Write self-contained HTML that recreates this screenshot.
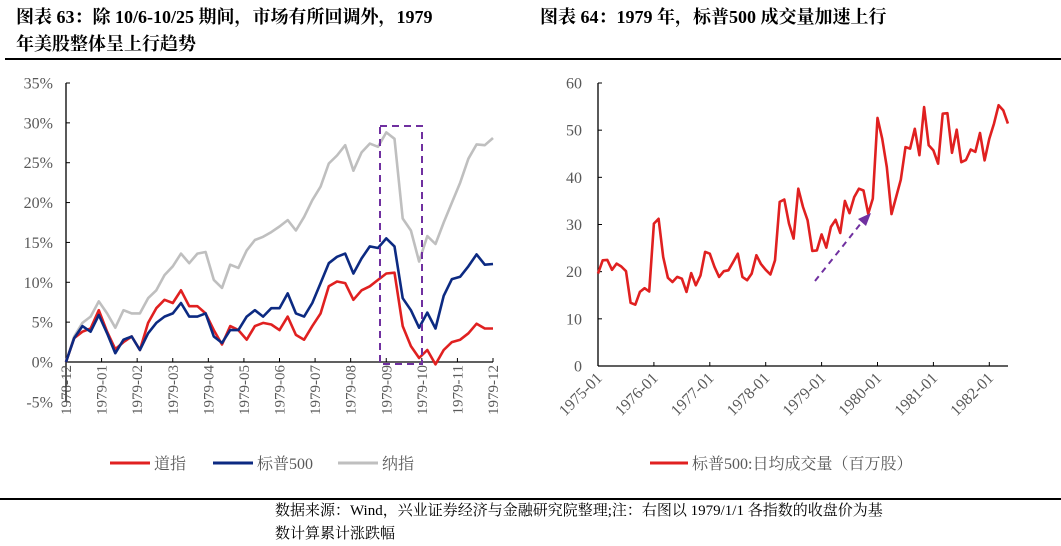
<!DOCTYPE html>
<html><head><meta charset="utf-8">
<style>
body{margin:0;background:#fff;}
#wrap{position:relative;width:1061px;height:546px;overflow:hidden;font-family:"Liberation Serif","Noto Serif CJK SC",serif;}
.title{position:absolute;font-weight:bold;font-size:18px;color:#000;line-height:27px;}
.foot{position:absolute;left:275px;font-size:15px;line-height:23px;color:#000;}
svg text{font-family:"Liberation Serif","Noto Serif CJK SC",serif;}
</style></head>
<body>
<div id="wrap">
<div class="title" style="left:16px;top:4px;width:520px;">图表 63：除 10/6-10/25 期间，市场有所回调外，1979<br>年美股整体呈上行趋势</div>
<div class="title" style="left:540px;top:4px;width:520px;">图表 64：1979 年，标普500 成交量加速上行</div>
<div style="position:absolute;left:5px;top:58px;width:1056px;height:1.5px;background:#000"></div>
<div style="position:absolute;left:0;top:498px;width:1061px;height:1.5px;background:#000"></div>
<div class="foot" style="top:500px">数据来源：Wind，兴业证券经济与金融研究院整理;注：右图以 1979/1/1 各指数的收盘价为基<br>数计算累计涨跌幅</div>
<svg id="chart" width="1061" height="546" style="position:absolute;left:0;top:0"></svg>
</div>
<script>
// Left chart data (weekly samples, cumulative % change in 1979)
const leftWeeks = Array.from({length:53},(_,i)=>i*7);
const dowVals = [0,3,3.8,4.2,6.5,3.8,1.6,2.5,3.2,1.5,4.9,6.75,7.8,7.4,9,7,7,6.1,4,2.2,4.5,4,2.8,4.5,4.9,4.7,4,5.7,3.4,2.8,4.5,6.1,9.5,10.1,9.9,7.8,9,9.5,10.3,11.1,11.2,4.5,2,0.5,1.5,-0.3,1.5,2.5,2.8,3.6,4.8,4.2,4.2];
const spxVals = [0,3,4.5,3.8,5.9,3.6,1.1,2.8,3.2,1.5,3.6,4.9,5.7,6.1,7.4,5.7,5.7,6.1,3.2,2.4,4,4,5.7,6.5,5.7,6.75,6.75,8.6,6.1,5.7,7.4,9.9,12.4,13.2,13.6,11.1,13,14.5,14.3,15.5,14.5,8,6.5,4.3,6.2,4.2,8.3,10.4,10.7,12,13.5,12.2,12.3];
const nasVals = [0,3.2,4.9,5.7,7.6,6.1,4.3,6.5,6.1,6.1,8,9,10.9,12,13.6,12.4,13.6,13.8,10.3,9.3,12.2,11.8,14,15.3,15.7,16.3,17,17.8,16.5,18.2,20.3,22,24.9,25.9,27.2,24,26.3,27.4,27,28.8,28,18,16.5,12.6,15.8,14.8,17.5,20,22.5,25.5,27.3,27.2,28.1];
const leftYTicks = [-5,0,5,10,15,20,25,30,35];
const leftXLabels = ["1978-12","1979-01","1979-02","1979-03","1979-04","1979-05","1979-06","1979-07","1979-08","1979-09","1979-10","1979-11","1979-12"];
// Right chart data (monthly avg daily volume, millions)
const volMonths0 = 0; // index 0 = 1975-01
const volVals = [19.6,22.4,22.5,20.4,21.7,21.1,20.1,13.4,13,15.7,16.5,15.8,30.2,31.2,23.1,18.7,17.8,18.9,18.5,15.7,19.7,17.1,19.2,24.2,23.8,21,18.9,20.1,20.3,22,23.8,18.9,18.2,19.6,23.5,21.6,20.4,19.4,22.4,34.8,35.3,30.2,27,37.6,33.7,30.9,24.4,24.5,27.9,25.1,29.5,31,28.2,35,32.4,35.8,37.6,37.2,32.3,35.5,52.6,48.2,42.2,32.2,35.8,39.5,46.4,46.1,50.3,44.7,54.9,46.8,45.7,42.9,53.5,53.6,45.2,50.1,43.2,43.7,45.9,45.4,49.4,43.6,48.2,51.4,55.3,54.2,51.4];
const rightYTicks = [0,10,20,30,40,50,60];
const rightXLabels = ["1975-01","1976-01","1977-01","1978-01","1979-01","1980-01","1981-01","1982-01"];

const NS="http://www.w3.org/2000/svg";
const svg=document.getElementById('chart');
function mk(tag,attrs,parent){const e=document.createElementNS(NS,tag);for(const k in attrs)e.setAttribute(k,attrs[k]);(parent||svg).appendChild(e);return e;}

// left axes
const lx0=66,lx1=493,ly0=362,lyPer=279/35;
const lX=d=>lx0+(d/364)*(lx1-lx0);
const lY=v=>ly0-v*lyPer;
const lg=mk('g',{});


let ax=mk('line',{x1:lx0,y1:lY(35),x2:lx0,y2:lY(-5),stroke:'#000','stroke-width':1.3},lg);

leftYTicks.forEach(t=>{
  const tk=mk('line',{x1:lx0,y1:lY(t),x2:lx0+4,y2:lY(t),stroke:'#000'},lg);
  
  const tx=mk('text',{x:lx0-13,y:lY(t)+5.5,'text-anchor':'end','font-size':16,fill:'#595959'},lg);
  tx.textContent=t+'%';
  
});
let xa=mk('line',{x1:lx0,y1:ly0,x2:lx1,y2:ly0,stroke:'#000','stroke-width':1.3},lg);

leftXLabels.forEach((l,i)=>{
  const x=lx0+i*(lx1-lx0)/12;
  const tk=mk('line',{x1:x,y1:ly0,x2:x,y2:ly0-4,stroke:'#000'},lg);
  
  const tx=mk('text',{x:0,y:0,'text-anchor':'end','font-size':15,fill:'#595959',transform:`translate(${x+5},${ly0+3}) rotate(-90)`},lg);
  tx.textContent=l;
  
});
function series(vals,xf,yf,xs,color,name,parent){
  const d=vals.map((v,i)=>(i?'L':'M')+xf(xs[i]).toFixed(1)+','+yf(v).toFixed(1)).join('');
  const p=mk('path',{d:d,fill:'none',stroke:color,'stroke-width':2.6,'stroke-linejoin':'round'},parent);
  
}
series(nasVals,lX,lY,leftWeeks,'#bfbfbf','nasdaq-line',lg);
series(dowVals,lX,lY,leftWeeks,'#e02020','dow-line',lg);
series(spxVals,lX,lY,leftWeeks,'#0c2a82','sp500-line',lg);
const rect=mk('rect',{x:380,y:126,width:42,height:238,fill:'none',stroke:'#7030a0','stroke-width':2,'stroke-dasharray':'7,5'},lg);


// left legend
const legL=[['#e02020','道指',110],['#0c2a82','标普500',213],['#bfbfbf','纳指',338]];
legL.forEach(([c,t,x])=>{
  const l=mk('line',{x1:x,y1:463,x2:x+40,y2:463,stroke:c,'stroke-width':3},lg);
  
  const tx=mk('text',{x:x+44,y:469,'font-size':16,fill:'#595959'},lg);
  tx.textContent=t;
  
});

// right chart
const rx0=598,rYear=55.9,ry0=366,ryPer=283/60;
const rX=m=>rx0+m*rYear/12;
const rY=v=>ry0-v*ryPer;
const rg=mk('g',{});


ax=mk('line',{x1:rx0,y1:rY(60),x2:rx0,y2:ry0,stroke:'#000','stroke-width':1.3},rg);

rightYTicks.forEach(t=>{
  const tk=mk('line',{x1:rx0,y1:rY(t),x2:rx0+4,y2:rY(t),stroke:'#000'},rg);
  
  const tx=mk('text',{x:rx0-16,y:rY(t)+5.5,'text-anchor':'end','font-size':16,fill:'#595959'},rg);
  tx.textContent=t;
  
});
xa=mk('line',{x1:rx0,y1:ry0,x2:1008,y2:ry0,stroke:'#000','stroke-width':1.3},rg);

rightXLabels.forEach((l,i)=>{
  const x=rx0+i*rYear;
  const tk=mk('line',{x1:x,y1:ry0,x2:x,y2:ry0-4,stroke:'#000'},rg);
  
  const tx=mk('text',{x:0,y:0,'text-anchor':'end','font-size':16,fill:'#595959',transform:`translate(${x+5},${ry0+13}) rotate(-45)`},rg);
  tx.textContent=l;
  
});
series(volVals,rX,rY,volVals.map((_,i)=>volMonths0+i),'#e02020','volume-line',rg);
const arr=mk('line',{x1:815,y1:281,x2:862,y2:222,stroke:'#7030a0','stroke-width':2,'stroke-dasharray':'6,5'},rg);

const ah=mk('polygon',{points:'871,213 858,219 866,226',fill:'#7030a0'},rg);

const rl=mk('line',{x1:650,y1:463,x2:688,y2:463,stroke:'#e02020','stroke-width':3},rg);

const rt=mk('text',{x:692,y:469,'font-size':16,fill:'#595959'},rg);
rt.textContent='标普500:日均成交量（百万股）';

</script>
</body></html>
